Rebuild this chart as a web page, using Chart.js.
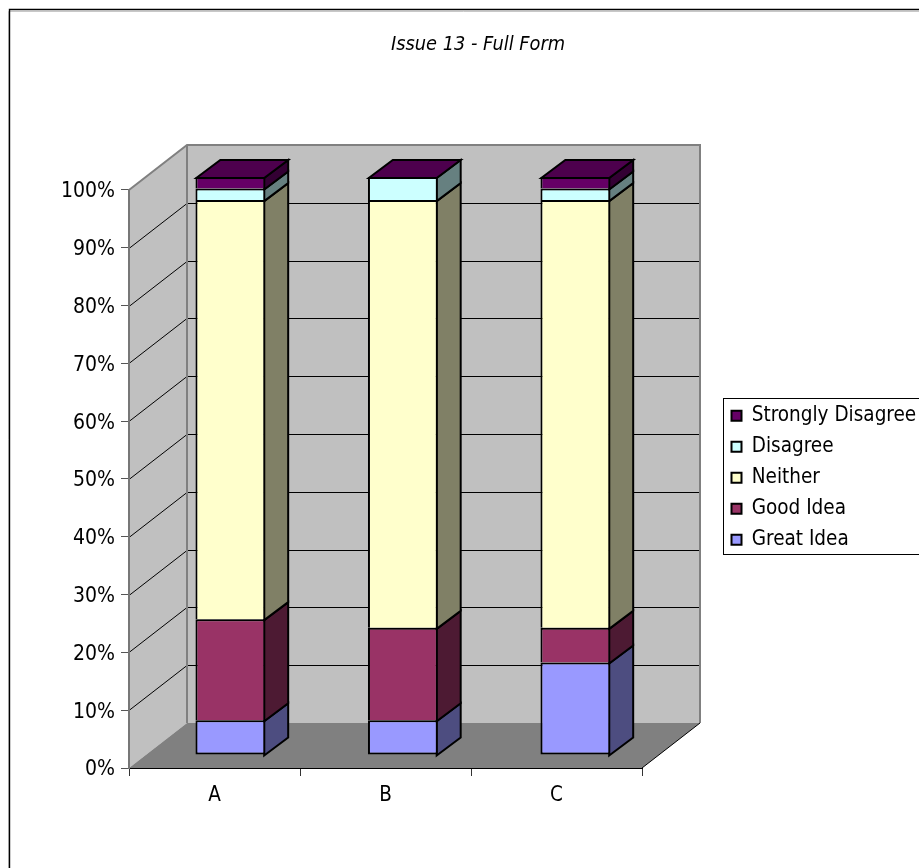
<!DOCTYPE html>
<html lang="en">
<head>
    <meta charset="UTF-8">
    <title>Issue 13 - Full Form</title>
    <script src="https://cdn.jsdelivr.net/npm/chart.js"></script>
    <style>
        html, body { margin: 0; padding: 0; background: white; overflow: hidden; }
        canvas { display: block; }
    </style>
</head>
<body>
    <canvas id="chart" width="919" height="868"></canvas>
    <script>
        const categories = ['A', 'B', 'C'];
        const seriesNames = ['Great Idea', 'Good Idea', 'Neither', 'Disagree', 'Strongly Disagree'];
        const greatIdea = [6, 6, 16];
        const goodIdea = [17.5, 16, 6];
        const neither = [72.5, 74, 74];
        const disagree = [2, 4, 2];
        const stronglyDisagree = [2, 0, 2];
        const seriesColors = ['#9999FF', '#993366', '#FFFFCC', '#CCFFFF', '#660066'];
        const fontName = '"DejaVu Sans Condensed", "DejaVu Sans", sans-serif';

        // depth of the fake 3d box and of the bars inside it
        const wallDx = 58, wallDy = -45;
        const barShiftX = 15, barShiftY = -13, barStretch = 172.5 / 171;
        const barDx = 24, barDy = -18;

        function shade(hex, f) {
            const n = parseInt(hex.slice(1), 16);
            const r = Math.round((n >> 16) * f), g = Math.round(((n >> 8) & 255) * f), b = Math.round((n & 255) * f);
            return `rgb(${r},${g},${b})`;
        }

        function poly(ctx, pts, fill, stroke, width) {
            ctx.beginPath();
            pts.forEach((p, i) => i ? ctx.lineTo(p[0], p[1]) : ctx.moveTo(p[0], p[1]));
            ctx.closePath();
            if (fill) { ctx.fillStyle = fill; ctx.fill(); }
            if (stroke) { ctx.strokeStyle = stroke; ctx.lineWidth = width; ctx.stroke(); }
        }

        function line(ctx, pts, color, width) {
            ctx.beginPath();
            pts.forEach((p, i) => i ? ctx.lineTo(p[0], p[1]) : ctx.moveTo(p[0], p[1]));
            ctx.strokeStyle = color;
            ctx.lineWidth = width;
            ctx.stroke();
        }

        const box3d = {
            id: 'box3d',
            afterLayout(chart) {
                // title and legend sit where the layout can't put them
                const t = chart.titleBlock;
                t.left = 37; t.right = 919;
                const l = chart.legend;
                l.left = 721; l.top = 395; l.right = 1000; l.bottom = 868;
                l.adjustHitBoxes();
            },
            beforeDraw(chart) {
                const ctx = chart.ctx, area = chart.chartArea, y = chart.scales.y;
                const L = area.left, R = area.right, T = area.top, B = area.bottom;
                ctx.save();
                ctx.fillStyle = '#fff';
                ctx.fillRect(0, 0, chart.width, chart.height);
                // outer frame only shows on the top and left, the rest is cropped off
                line(ctx, [[8.5, 868], [8.5, 11.5], [919, 11.5]], '#c8c8c8', 1);
                line(ctx, [[9.5, 868], [9.5, 9.5], [919, 9.5]], '#000', 1.4);
                ctx.strokeStyle = '#000';
                ctx.lineWidth = 1;
                ctx.strokeRect(723.5, 398.5, 220, 156);

                poly(ctx, [[L, T], [L + wallDx, T + wallDy], [L + wallDx, B + wallDy], [L, B]], '#C0C0C0');
                poly(ctx, [[L + wallDx, T + wallDy], [R + wallDx, T + wallDy], [R + wallDx, B + wallDy], [L + wallDx, B + wallDy]], '#C0C0C0');
                poly(ctx, [[L, B], [L + wallDx, B + wallDy], [R + wallDx, B + wallDy], [R, B]], '#808080');

                y.ticks.forEach((tick, i) => {
                    if (tick.value === 0 || tick.value === 100) return;
                    const py = Math.round(y.getPixelForTick(i)) + 0.5;
                    line(ctx, [[L, py], [L + wallDx, py + wallDy], [R + wallDx, py + wallDy]], '#000', 1);
                });

                line(ctx, [[L, T], [L + wallDx, T + wallDy], [R + wallDx, T + wallDy], [R + wallDx, B + wallDy]], '#808080', 2);
                line(ctx, [[L + wallDx, T + wallDy], [L + wallDx, B + wallDy]], '#808080', 2);
                line(ctx, [[R, B], [R + wallDx, B + wallDy]], '#000', 1);
                ctx.restore();
            },
            beforeDatasetsDraw(chart) {
                const ctx = chart.ctx, left = chart.chartArea.left;
                const mapX = x => left + (x - left) * barStretch + barShiftX;
                ctx.save();
                ctx.lineJoin = 'miter';
                const last = chart.data.datasets.length - 1;
                chart.data.datasets.forEach((ds, d) => {
                    chart.getDatasetMeta(d).data.forEach(bar => {
                        const p = bar.getProps(['x', 'y', 'base', 'width']);
                        const x = mapX(p.x + p.width / 2) - 1;
                        const yTop = p.y + barShiftY + 1, yBase = p.base + barShiftY + 1;
                        if (Math.abs(yBase - yTop) < 0.5) return;
                        poly(ctx, [[x, yBase], [x + barDx, yBase + barDy], [x + barDx, yTop + barDy], [x, yTop]],
                            shade(ds.backgroundColor, 0.5), '#000', 2);
                    });
                });
                // top lid is always the colour of the last series, like the original
                chart.getDatasetMeta(last).data.forEach(bar => {
                    const p = bar.getProps(['x', 'y', 'width']);
                    const xl = mapX(p.x - p.width / 2) + 1, xr = mapX(p.x + p.width / 2) - 1;
                    const yt = p.y + barShiftY + 1;
                    poly(ctx, [[xl, yt], [xr, yt], [xr + barDx, yt + barDy], [xl + barDx, yt + barDy]],
                        shade(seriesColors[last], 0.75), '#000', 2);
                });
                ctx.translate(left, 0);
                ctx.scale(barStretch, 1);
                ctx.translate(-left, 0);
                ctx.translate(barShiftX, barShiftY);
            },
            afterDatasetsDraw(chart) {
                chart.ctx.restore();
            }
        };

        const allSeries = [greatIdea, goodIdea, neither, disagree, stronglyDisagree];

        new Chart(document.getElementById('chart'), {
            type: 'bar',
            data: {
                labels: categories,
                datasets: allSeries.map((values, i) => ({
                    label: seriesNames[i],
                    data: values,
                    backgroundColor: seriesColors[i],
                    borderColor: '#000',
                    borderWidth: 2,
                    borderSkipped: i === 0 ? false : 'start',
                    inflateAmount: 0,
                    categoryPercentage: 0.405,
                    barPercentage: 1
                }))
            },
            options: {
                responsive: false,
                animation: false,
                layout: { padding: { left: 49, right: 277, top: 0, bottom: 50 } },
                plugins: {
                    tooltip: { enabled: false },
                    title: {
                        display: true,
                        text: 'Issue 13 - Full Form',
                        color: '#000',
                        font: { family: fontName, size: 19.8, style: 'italic', weight: 'normal', lineHeight: 1.2 },
                        padding: { top: 33, bottom: 133.2 }
                    },
                    legend: {
                        position: 'chartArea',
                        align: 'start',
                        reverse: true,
                        labels: {
                            color: '#000',
                            font: { family: fontName, size: 20.5 },
                            boxWidth: 10,
                            boxHeight: 10,
                            padding: 10.5
                        }
                    }
                },
                scales: {
                    x: {
                        stacked: true,
                        grid: { offset: true, drawOnChartArea: false, color: '#333', tickLength: 8 },
                        border: { color: '#000', width: 1 },
                        ticks: { color: '#000', padding: 7, font: { family: fontName, size: 20.5 } },
                        afterFit(s) { s.height = 50; }
                    },
                    y: {
                        stacked: true,
                        min: 0,
                        max: 100,
                        grid: { drawOnChartArea: false, color: '#555', tickLength: 8 },
                        border: { color: '#777', width: 2 },
                        ticks: {
                            stepSize: 10,
                            color: '#000',
                            padding: 6,
                            labelOffset: 2,
                            font: { family: fontName, size: 21 },
                            callback: v => v + '%'
                        },
                        afterFit(s) { s.width = 80; }
                    }
                }
            },
            plugins: [box3d]
        });
    </script>
</body>
</html>
